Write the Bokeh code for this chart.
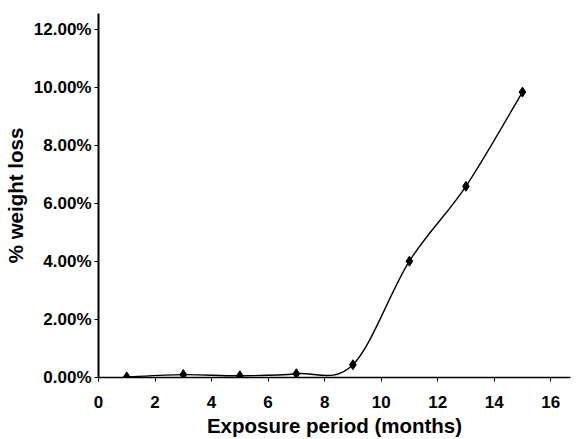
import numpy as np
from bokeh.plotting import figure
from bokeh.models import NumeralTickFormatter, FixedTicker, Range1d
from bokeh.embed import file_html
from bokeh.resources import INLINE

# Data
months = [1, 3, 5, 7, 9, 11, 13, 15]
weight_loss = [0.0002, 0.0010, 0.0006, 0.0013, 0.0044, 0.0401, 0.0659, 0.0984]
x_ticks = [0, 2, 4, 6, 8, 10, 12, 14, 16]
y_ticks = [0.0, 0.02, 0.04, 0.06, 0.08, 0.10, 0.12]

FONT = "Liberation Sans"

p = figure(width=571, height=439, output_backend="svg", toolbar_location=None,
           x_range=Range1d(0, 16.7), y_range=Range1d(0, 0.1255),
           min_border_left=89, min_border_right=1, min_border_top=13, min_border_bottom=62)
p.outline_line_color = None
p.grid.visible = False
p.background_fill_color = "white"
p.border_fill_color = "white"

# Smoothed line (Excel-like Catmull-Rom bezier) computed from the data
x = np.array(months, dtype=float)
y = np.array(weight_loss, dtype=float)
n = len(x)
x0, y0, x1, y1, cx0, cy0, cx1, cy1 = [], [], [], [], [], [], [], []
for i in range(n - 1):
    pi_ = max(i - 1, 0)
    ni = min(i + 2, n - 1)
    x0.append(x[i]); y0.append(y[i]); x1.append(x[i + 1]); y1.append(y[i + 1])
    cx0.append(x[i] + (x[i + 1] - x[pi_]) / 6.0)
    cy0.append(y[i] + (y[i + 1] - y[pi_]) / 6.0)
    cx1.append(x[i + 1] - (x[ni] - x[i]) / 6.0)
    cy1.append(y[i + 1] - (y[ni] - y[i]) / 6.0)
p.bezier(x0=x0, y0=y0, x1=x1, y1=y1, cx0=cx0, cy0=cy0, cx1=cx1, cy1=cy1,
         line_color="black", line_width=1.4)
p.scatter(months, weight_loss, marker="diamond", size=10, color="black")

# Axes
p.xaxis.ticker = FixedTicker(ticks=x_ticks)
p.yaxis.ticker = FixedTicker(ticks=y_ticks)
p.yaxis.formatter = NumeralTickFormatter(format="0.00%")
for ax in (p.xaxis, p.yaxis):
    ax.axis_line_color = "black"
    ax.major_tick_line_color = "black"
    ax.major_tick_in = 0
    ax.major_tick_out = 4
    ax.minor_tick_line_color = None
    ax.major_label_text_font = FONT
    ax.major_label_text_font_style = "bold"
    ax.major_label_text_font_size = "17px"
    ax.major_label_text_color = "black"
    ax.axis_label_text_font = FONT
    ax.axis_label_text_font_style = "bold"
    ax.axis_label_text_font_size = "20.5px"
    ax.axis_label_text_color = "black"
p.yaxis.axis_line_width = 2
p.xaxis.axis_line_width = 1.5
p.yaxis.major_label_standoff = 3
p.xaxis.major_label_standoff = 14
p.xaxis.axis_label = "Exposure period (months)"
p.xaxis.axis_label_standoff = 3
p.yaxis.axis_label = "% weight loss"
p.yaxis.axis_label_standoff = 4

open("out.html", "w").write(file_html(p, INLINE))
